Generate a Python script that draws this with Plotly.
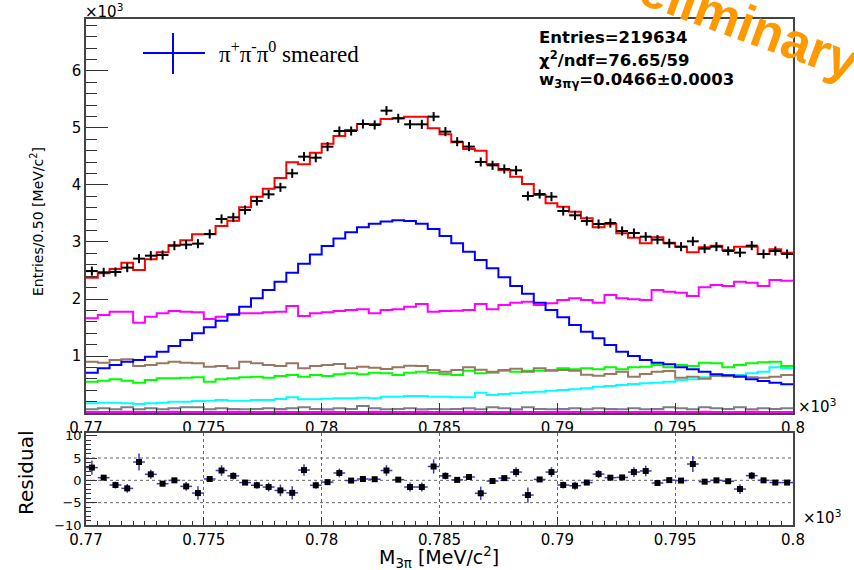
import numpy as np
import plotly.graph_objects as go

# ---------------- data ----------------
x_low = 0.770
bin_width = 0.0005
n_bins = 60

data_counts = [2490, 2468, 2474, 2550, 2708, 2760, 2772, 2936, 2953, 2971,
               3140, 3404, 3433, 3561, 3719, 3836, 3959, 4205, 4497, 4479,
               4672, 4947, 4947, 5070, 5053, 5304, 5170, 5064, 5064, 5199,
               4936, 4760, 4673, 4404, 4345, 4281, 4257, 3807, 3842, 3795,
               3544, 3468, 3368, 3316, 3333, 3193, 3158, 3093, 3041, 2977,
               2918, 3012, 2883, 2918, 2842, 2813, 2936, 2789, 2842, 2789]

fit_total = [2374, 2450, 2526, 2637, 2509, 2696, 2819, 2942, 3029, 3134,
             3134, 3281, 3374, 3608, 3795, 3936, 4123, 4398, 4363, 4567,
             4725, 4860, 4965, 5070, 5070, 5158, 5170, 5199, 5199, 4994,
             4888, 4749, 4632, 4602, 4368, 4263, 4146, 4018, 3825, 3678,
             3620, 3532, 3415, 3257, 3316, 3152, 3076, 2977, 3082, 2988,
             2918, 2819, 2906, 2936, 2860, 2918, 2918, 2789, 2871, 2813]

signal_blue = [708, 784, 842, 901, 930, 988, 1076, 1175, 1281, 1398,
               1503, 1620, 1731, 1865, 2012, 2158, 2304, 2460, 2620, 2780,
               2930, 3060, 3170, 3260, 3320, 3360, 3380, 3370, 3320, 3230,
               3105, 2977, 2830, 2684, 2538, 2380, 2228, 2090, 1935, 1807,
               1678, 1544, 1427, 1310, 1193, 1076, 1000, 930, 883, 854,
               801, 766, 725, 679, 661, 637, 591, 561, 532, 503]

bkg_magenta = [1661, 1719, 1778, 1778, 1585, 1690, 1749, 1789, 1778, 1766,
               1649, 1690, 1719, 1749, 1749, 1766, 1778, 1877, 1702, 1749,
               1766, 1789, 1807, 1819, 1749, 1807, 1819, 1865, 1912, 1778,
               1789, 1795, 1807, 1912, 1819, 1895, 1936, 1953, 1895, 1924,
               1982, 2012, 1982, 1936, 2070, 2012, 1994, 1982, 2158, 2129,
               2111, 2053, 2205, 2246, 2228, 2304, 2287, 2228, 2333, 2322]

bkg_brown = [901, 883, 930, 942, 825, 842, 871, 901, 883, 871,
             813, 825, 784, 901, 871, 842, 825, 871, 784, 825,
             842, 860, 784, 813, 795, 772, 801, 830, 825, 754,
             725, 754, 801, 760, 725, 754, 778, 725, 784, 743,
             754, 743, 673, 655, 684, 725, 637, 684, 725, 737,
             620, 637, 602, 655, 643, 655, 626, 620, 637, 667]

bkg_green = [550, 567, 591, 567, 532, 579, 608, 608, 620, 626,
             550, 591, 608, 626, 637, 620, 649, 667, 637, 667,
             649, 678, 696, 678, 708, 696, 667, 708, 725, 708,
             684, 667, 743, 696, 708, 743, 725, 743, 743, 754,
             784, 766, 784, 766, 801, 766, 801, 813, 842, 801,
             842, 825, 883, 871, 801, 842, 871, 889, 901, 825]

bkg_cyan = [170, 181, 181, 170, 158, 170, 181, 199, 199, 211,
            216, 228, 216, 216, 228, 228, 246, 275, 240, 240,
            251, 257, 257, 269, 257, 287, 287, 298, 298, 287,
            287, 275, 275, 357, 316, 333, 345, 363, 374, 392,
            404, 415, 433, 462, 474, 491, 509, 520, 532, 550,
            579, 591, 626, 649, 667, 667, 696, 725, 801, 784]

bkg_grey = [64, 82, 64, 99, 64, 82, 64, 82, 99, 99,
            64, 82, 70, 64, 70, 82, 70, 82, 99, 70,
            64, 82, 70, 123, 82, 64, 70, 82, 64, 70,
            64, 70, 82, 64, 99, 82, 64, 99, 70, 64,
            70, 82, 64, 82, 70, 64, 82, 64, 70, 99,
            82, 64, 99, 82, 70, 99, 64, 82, 70, 82]

bkg_purple = [14, 15, 14, 16, 15, 14, 15, 16, 15, 14,
              15, 14, 16, 15, 14, 15, 16, 15, 14, 15,
              16, 15, 14, 15, 16, 15, 14, 15, 16, 15,
              14, 15, 16, 15, 14, 15, 16, 15, 14, 15,
              16, 15, 14, 15, 16, 15, 14, 15, 16, 15,
              14, 15, 16, 15, 14, 15, 16, 15, 14, 15]

residual = [2.85, 0.6, -1.05, -1.8, 4.1, 1.35, -0.75, 0.0, -1.35, -2.85,
            0.3, 2.2, 1.0, -0.5, -1.1, -1.5, -2.25, -2.8, 2.3, -1.1,
            -0.4, 1.65, -0.05, 0.3, 0.25, 2.2, 0.15, -1.5, -1.5, 3.1,
            1.0, 0.1, 0.75, -2.9, -0.15, 0.5, 1.85, -3.3, 0.2, 1.85,
            -1.05, -1.2, -0.5, 1.4, 0.6, 0.65, 1.85, 2.1, -0.6, 0.05,
            -0.05, 3.65, -0.3, 0.0, -0.2, -1.95, 1.05, 0.0, -0.5, -0.5]

residual_err = [1.6, 0.3, 0.8, 1.0, 1.9, 1.0, 0.6, 0.2, 1.0, 1.5,
                0.3, 1.2, 0.8, 0.5, 0.8, 1.0, 1.3, 1.5, 1.3, 0.8,
                0.4, 1.0, 0.2, 0.3, 0.3, 1.2, 0.2, 1.0, 1.0, 1.6,
                0.8, 0.2, 0.6, 1.5, 0.2, 0.5, 1.1, 1.7, 0.3, 1.1,
                0.8, 0.9, 0.5, 0.9, 0.5, 0.5, 1.1, 1.2, 0.5, 0.2,
                0.2, 1.8, 0.4, 0.2, 0.3, 1.1, 0.8, 0.2, 0.5, 0.5]

x_tick_vals = [0.77, 0.775, 0.78, 0.785, 0.79, 0.795, 0.8]
x_tick_text = ["0.77", "0.775", "0.78", "0.785", "0.79", "0.795", "0.8"]
y_tick_vals = [1000, 2000, 3000, 4000, 5000, 6000]
y_tick_text = ["1", "2", "3", "4", "5", "6"]
r_tick_vals = [-10, -5, 0, 5, 10]
r_tick_text = ["\u221210", "\u22125", "0", "5", "10"]

edges = x_low + bin_width * np.arange(n_bins + 1)
centers = x_low + bin_width * (np.arange(n_bins) + 0.5)

W, H = 854, 570
def px(x):
    return x / W
def py(y):
    return 1 - y / H

FONT = "DejaVu Sans"
fig = go.Figure()

def step(vals, color, width=2):
    fig.add_trace(go.Scatter(x=edges, y=list(vals) + [vals[-1]], mode="lines",
                             line=dict(color=color, width=width, shape="hv"),
                             showlegend=False, hoverinfo="skip",
                             xaxis="x", yaxis="y"))

step(bkg_grey, "#7a7f85")
step(bkg_purple, "#ff00ff", 2.5)
step(bkg_cyan, "#00ffff")
step(bkg_green, "#00ff00")
step(bkg_brown, "#9b7762")
step(bkg_magenta, "#ff00ff")
step(signal_blue, "#0000ff")
step(fit_total, "#ff0000")

fig.add_trace(go.Scatter(
    x=centers, y=data_counts, mode="markers",
    marker=dict(size=1, color="black"),
    error_x=dict(type="constant", value=bin_width / 2, width=0, thickness=2, color="black"),
    error_y=dict(type="constant", value=80, width=0, thickness=2, color="black"),
    showlegend=False, xaxis="x", yaxis="y"))

fig.add_trace(go.Scatter(
    x=centers, y=residual, mode="markers",
    marker=dict(size=6, color="black", symbol="square"),
    error_x=dict(type="constant", value=bin_width / 2, width=0, thickness=1.5, color="#3a3acd"),
    error_y=dict(type="data", array=residual_err, width=0, thickness=1.5, color="#3a3acd"),
    showlegend=False, xaxis="x2", yaxis="y2"))

xdom = [px(86), px(793)]
axis_common = dict(showline=True, mirror=True, linecolor="#444", linewidth=1.5,
                   zeroline=False, ticks="inside", tickcolor="#333", automargin=False)

fig.update_layout(
    width=W, height=H, margin=dict(l=0, r=0, t=0, b=0),
    paper_bgcolor="white", plot_bgcolor="white",
    font=dict(family=FONT, color="black"),
    xaxis=dict(domain=xdom, anchor="y", range=[0.77, 0.8], tickmode="array",
               tickvals=x_tick_vals, ticktext=x_tick_text, ticklen=10,
               tickfont=dict(size=15), showgrid=False,
               minor=dict(tick0=0.77, dtick=0.001, ticklen=5, ticks="inside", tickcolor="#333"),
               **axis_common),
    yaxis=dict(domain=[py(413), py(19)], anchor="x", range=[0, 6912], tickmode="array",
               tickvals=y_tick_vals, ticktext=y_tick_text, ticklen=22,
               tickfont=dict(size=15), showgrid=False,
               minor=dict(tick0=0, dtick=200, ticklen=11, ticks="inside", tickcolor="#333"),
               **axis_common),
    xaxis2=dict(domain=xdom, anchor="y2", range=[0.77, 0.8], tickmode="array",
                tickvals=x_tick_vals, ticktext=x_tick_text, ticklen=8,
                tickfont=dict(size=15), showgrid=True, griddash="dot",
                gridcolor="#666", gridwidth=1,
                minor=dict(tick0=0.77, dtick=0.0005, ticklen=4, ticks="inside", tickcolor="#333"),
                **axis_common),
    yaxis2=dict(domain=[py(525), py(433)], anchor="x2", range=[-10, 10.6], tickmode="array",
                tickvals=r_tick_vals, ticktext=r_tick_text, ticklen=11,
                tickfont=dict(size=13), showgrid=False,
                minor=dict(tick0=0, dtick=1, ticklen=5, ticks="inside", tickcolor="#333"),
                **axis_common),
)

# dotted horizontal grid in residual panel
for v in [-5, 0, 5]:
    fig.add_shape(type="line", xref="x2 domain", yref="y2", x0=0, x1=1, y0=v, y1=v,
                  line=dict(color="#666", width=1, dash="dot"), layer="below")

# legend symbol
fig.add_shape(type="line", xref="paper", yref="paper", x0=px(143), x1=px(205),
              y0=py(53), y1=py(53), line=dict(color="#0000ff", width=2))
fig.add_shape(type="line", xref="paper", yref="paper", x0=px(173), x1=px(173),
              y0=py(33), y1=py(74), line=dict(color="#0000ff", width=2))

ann = []
def add_text(text, x, y, size, xanchor="left", yanchor="middle", angle=0, family=FONT, color="black"):
    ann.append(dict(text=text, x=px(x), y=py(y), xref="paper", yref="paper",
                    xanchor=xanchor, yanchor=yanchor, textangle=angle, showarrow=False,
                    font=dict(size=size, family=family, color=color)))

add_text("\u00d710<sup>3</sup>", 83, 11, 15)
add_text("\u00d710<sup>3</sup>", 796, 406, 15)
add_text("\u00d710<sup>3</sup>", 801, 517, 15)
add_text("Entries/0.50 [MeV/c<sup>2</sup>]", 37, 222, 14, xanchor="center", angle=-90)
add_text("Residual", 26, 473, 20, xanchor="center", angle=-90)
add_text("M<sub>3\u03c0</sub> [MeV/c<sup>2</sup>]", 439, 557, 19, xanchor="center")
add_text("<b>Entries=219634</b>", 537, 38, 16.5)
add_text("<b>\u03c7<sup>2</sup>/ndf=76.65/59</b>", 537, 59, 16.5)
add_text("<b>w<sub>3\u03c0\u03b3</sub>=0.0466\u00b10.0003</b>", 537, 80, 16.5)
add_text("\u03c0<sup>+</sup>\u03c0<sup>-</sup>\u03c0<sup>0</sup> smeared", 217, 53, 23,
         family="Liberation Serif")
add_text("<b>Preliminary</b>", 723, 15, 52, xanchor="center", angle=20,
         family="Liberation Sans", color="#ff9900")

fig.update_layout(annotations=ann)
fig.write_html("out.html")
